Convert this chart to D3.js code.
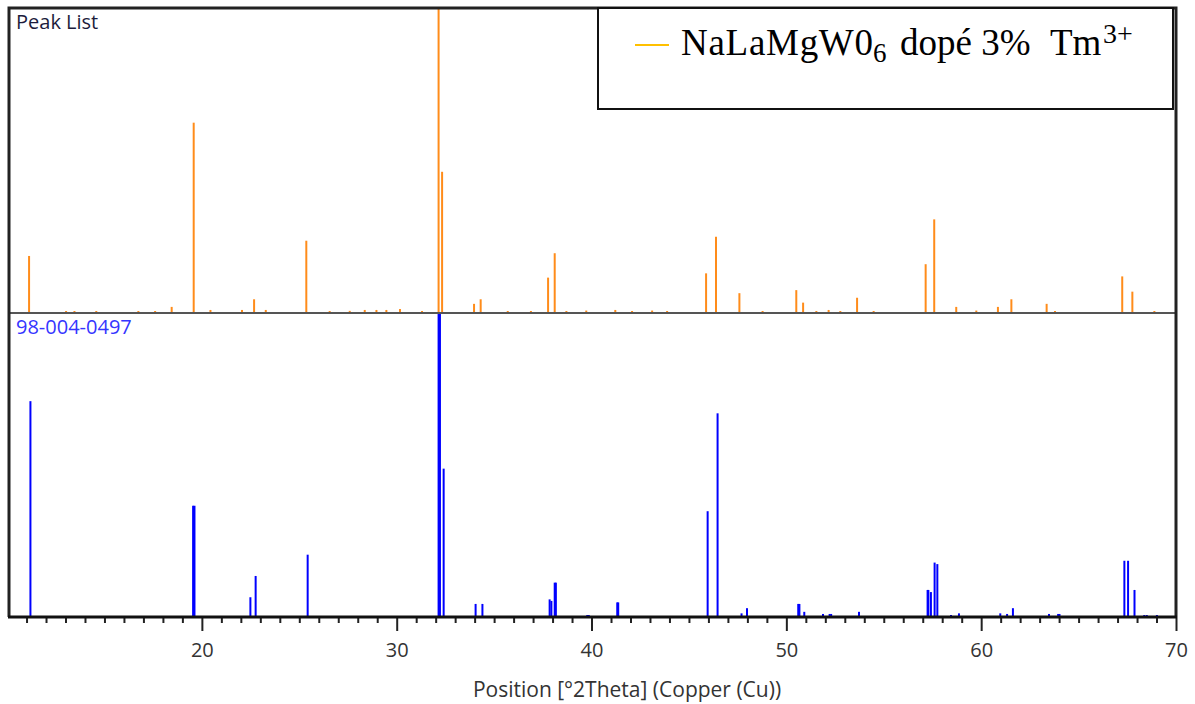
<!DOCTYPE html>
<html>
<head>
<meta charset="utf-8">
<script src="https://cdn.jsdelivr.net/npm/d3@7"></script>
<style>
  body { margin: 0; background: #fff; }
  svg { display: block; }
</style>
</head>
<body>
<div id="chart"></div>
<script>
var width = 1195,
    height = 704;

// measured peak list (top panel): position in 2theta, relative intensity %
const peakPos = [11.13, 13.03, 13.46, 14.58, 16.74, 17.6, 18.45, 19.58, 20.44, 22.06, 22.68, 23.28,
    25.36, 26.56, 27.59, 28.36, 28.96, 29.47, 30.17, 31.30, 32.15, 32.33, 33.97, 34.31, 35.70, 36.89,
    37.77, 38.11, 38.71, 39.73, 41.22, 42.08, 43.11, 43.88, 45.88, 46.39, 47.59, 48.78, 50.51, 50.86,
    51.54, 52.17, 52.77, 53.63, 54.48, 57.15, 57.59, 58.72, 59.75, 60.86, 61.55, 63.36, 63.79, 67.24,
    67.76, 68.89];
const peakInt = [18.7, 0.5, 0.5, 0.5, 0.5, 0.5, 2, 62.4, 1, 1, 4.5, 1,
    23.7, 0.5, 0.7, 1, 1, 1, 1.3, 0.5, 100, 46.3, 3, 4.5, 0.5, 0.5,
    11.6, 19.6, 0.5, 0.8, 1, 0.5, 0.8, 0.5, 13, 25, 6.5, 0.5, 7.5, 3.4,
    0.5, 1, 0.5, 5, 0.5, 16, 30.7, 2, 0.8, 2, 4.5, 3, 0.5, 12,
    7, 0.5];

// reference pattern 98-004-0497 (bottom panel)
const refPos = [11.20, 19.55, 19.62, 22.49, 22.76, 25.43, 32.15, 32.22, 32.41, 34.05, 34.40, 37.85,
    37.94, 38.11, 38.17, 39.78, 39.86, 41.32, 41.37, 45.96, 46.47, 47.70, 47.98, 50.61, 50.67, 50.92,
    51.88, 52.22, 52.30, 53.73, 57.25, 57.29, 57.42, 57.61, 57.75, 58.45, 58.86, 60.98, 61.33, 61.63,
    63.48, 63.95, 64.02, 67.35, 67.54, 67.87, 68.37, 68.50, 69.02];
const refInt = [71, 36.6, 36.6, 6.5, 13.5, 20.5, 100, 100, 48.8, 4.3, 4.3, 5.8,
    5.3, 11.3, 11.3, 0.5, 0.5, 4.8, 4.8, 34.8, 67, 1.2, 2.9, 4.3, 4.3, 1.7,
    1, 1, 1, 1.7, 8.9, 8.9, 8.2, 17.9, 17.4, 0.5, 1.2, 1.2, 1, 2.9,
    1, 1, 1, 18.5, 18.5, 8.9, 0.5, 0.5, 0.5];

const majorTicks = [20, 30, 40, 50, 60, 70];
const minorTicks = d3.range(11, 70).filter(d => d % 10 != 0);
const xTitle = "Position [°2Theta] (Copper (Cu))";
const topLabel = "Peak List";
const bottomLabel = "98-004-0497";

var x = d3.scaleLinear()
    .domain([10.1, 70])
    .range([9, 1176]);

var yTop = d3.scaleLinear().domain([0, 100]).range([313, 8]);
var yBot = d3.scaleLinear().domain([0, 100]).range([617, 313]);

var svg = d3.select("#chart")
    .append("svg")
    .attr("width", width)
    .attr("height", height);

const peaks = peakPos.map((p, i) => ({ pos: p, val: peakInt[i] }));
const refs = refPos.map((p, i) => ({ pos: p, val: refInt[i] }));

// sticks top
svg.append("g")
    .selectAll("line")
    .data(peaks)
    .join("line")
    .attr("x1", d => x(d.pos))
    .attr("x2", d => x(d.pos))
    .attr("y1", yTop(0))
    .attr("y2", d => Math.min(yTop(d.val), yTop(0) - 2))
    .attr("stroke", "#ff8c1a")
    .attr("stroke-width", 2);

// sticks bottom
svg.append("g")
    .selectAll("line")
    .data(refs)
    .join("line")
    .attr("x1", d => x(d.pos))
    .attr("x2", d => x(d.pos))
    .attr("y1", yBot(0))
    .attr("y2", d => Math.min(yBot(d.val), yBot(0) - 2))
    .attr("stroke", "#0000ff")
    .attr("stroke-width", 2);

// separator between the two panels
svg.append("line")
    .attr("x1", 9).attr("x2", 1176)
    .attr("y1", 313).attr("y2", 313)
    .attr("stroke", "#555")
    .attr("stroke-width", 2);

// frame
svg.append("path")
    .attr("d", "M9,617 L9,8 L1176,8 L1176,617")
    .attr("fill", "none")
    .attr("stroke", "#222")
    .attr("stroke-width", 3);

// x axis: minor + major ticks
svg.append("g")
    .attr("transform", "translate(0,617)")
    .call(d3.axisBottom(x).tickValues(minorTicks).tickSize(6).tickFormat(""))
    .call(g => g.select(".domain").remove())
    .call(g => g.selectAll(".tick line").attr("stroke", "#222").attr("stroke-width", 2));

svg.append("g")
    .attr("transform", "translate(0,617)")
    .call(d3.axisBottom(x).tickValues(majorTicks).tickSize(14).tickPadding(12))
    .call(g => g.select(".domain").remove())
    .call(g => g.selectAll(".tick line").attr("stroke", "#222").attr("stroke-width", 2))
    .call(g => g.selectAll(".tick text")
        .attr("font-family", "'Open Sans', sans-serif")
        .attr("font-size", "20px")
        .attr("fill", "#333"));

svg.append("line")
    .attr("x1", 8).attr("x2", 1177)
    .attr("y1", 617).attr("y2", 617)
    .attr("stroke", "#111")
    .attr("stroke-width", 3);

svg.append("text")
    .attr("x", 627)
    .attr("y", 697)
    .attr("text-anchor", "middle")
    .attr("font-family", "'Open Sans', sans-serif")
    .attr("font-size", "21px")
    .attr("fill", "#333")
    .text(xTitle);

// panel labels
svg.append("text")
    .attr("x", 16).attr("y", 29)
    .attr("font-family", "'Open Sans', sans-serif")
    .attr("font-size", "20px")
    .attr("fill", "#1c1c3c")
    .text(topLabel);

svg.append("text")
    .attr("x", 16).attr("y", 334)
    .attr("font-family", "'Open Sans', sans-serif")
    .attr("font-size", "20px")
    .attr("fill", "#3535ff")
    .text(bottomLabel);

// legend box
var lg = svg.append("g");
lg.append("rect")
    .attr("x", 598).attr("y", 8)
    .attr("width", 575).attr("height", 101)
    .attr("fill", "#fff")
    .attr("stroke", "#111")
    .attr("stroke-width", 2);

lg.append("line")
    .attr("x1", 635).attr("x2", 669)
    .attr("y1", 45).attr("y2", 45)
    .attr("stroke", "#ffc000")
    .attr("stroke-width", 2);

var lt = lg.append("text")
    .attr("y", 55)
    .attr("font-family", "'Liberation Serif', 'Times New Roman', serif")
    .attr("font-size", "37px")
    .attr("fill", "#000");
lt.append("tspan").attr("x", 681).attr("y", 55).attr("textLength", 192).text("NaLaMgW0");
lt.append("tspan").attr("x", 873).attr("y", 62).attr("font-size", "27px").text("6");
lt.append("tspan").attr("x", 900).attr("y", 55).text("dopé 3%");
lt.append("tspan").attr("x", 1050).attr("y", 55).text("Tm");
lt.append("tspan").attr("x", 1103).attr("y", 43).attr("font-size", "28px").text("3+");
</script>
</body>
</html>
